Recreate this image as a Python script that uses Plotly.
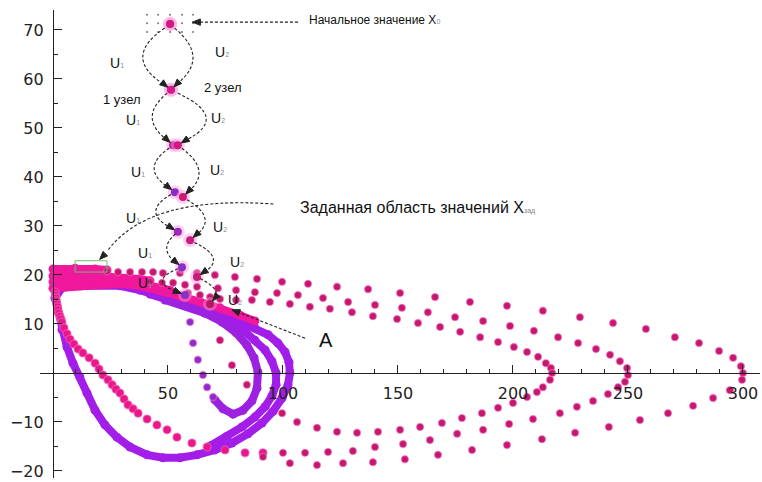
import math
import plotly.graph_objects as go

# ---------------- data ----------------
# start value and the two branches of the search chain (U1 = left, U2 = right)
node_left_x = [50.9, 51.3, 52.2, 53.0, 54.3, 56.1, 57.4]
node_left_y = [71.2, 57.8, 46.5, 36.9, 28.8, 21.6, 15.9]
node_right_x = [50.9, 51.3, 54.3, 56.5, 59.6, 62.6, 68.3]
node_right_y = [71.2, 57.8, 46.5, 35.9, 27.1, 19.6, 14.1]

# neighbourhood grid around the start value
grid_x = [40.9, 45.7, 50.9, 56.1, 60.9]
grid_y = [73.1, 71.4, 69.6]

# dense part of the trajectories near the y axis
band1_x = [0.0, 9.6, 18.3, 23.5]
band1_y = [21.2, 21.4, 21.2, 21.0]
band2_x = [0.0, 11.7, 24.8, 37.8, 42.2]
band2_y = [19.8, 19.8, 19.6, 19.2, 18.8]
band3_x = [0.0, 16.1, 29.1, 42.2, 50.9]
band3_y = [18.6, 18.6, 18.4, 17.8, 16.9]
band4_x = [0.0, 11.7, 20.4, 29.1, 37.8, 46.5, 55.2, 63.9, 72.6, 81.3, 87.8]
band4_y = [17.3, 17.8, 18.0, 18.2, 17.8, 16.9, 15.7, 14.5, 13.3, 11.8, 10.6]

# limit cycle (outer purple loop)
cycle_x = [0.9, 2.2, 3.9, 6.1, 8.7, 11.7, 14.8, 18.3, 22.6, 27.8, 33.5, 40.9, 47.8,
           55.2, 62.6, 70.4, 77.8, 84.8, 90.9, 95.7, 99.6, 102.2, 103.0, 102.6,
           100.9, 97.8, 93.5, 87.8, 81.3, 72.6, 63.9, 55.2, 46.5, 37.8, 29.1,
           20.4, 11.7, 3.9, 0.9]
cycle_y = [15.3, 12.4, 8.8, 5.3, 2.0, -0.8, -4.1, -7.6, -10.6, -13.1, -15.1, -16.7,
           -17.3, -17.3, -16.7, -15.7, -14.3, -12.4, -10.2, -7.8, -5.1, -2.4, 0.0,
           2.2, 4.3, 6.1, 7.8, 9.2, 10.4, 11.8, 13.1, 14.5, 15.9, 16.9, 17.8,
           18.0, 17.8, 17.4, 15.3]

# middle purple trajectory
mid_x = [42.2, 50.9, 59.6, 68.3, 76.1, 82.6, 87.8, 92.2, 95.2, 97.0, 97.0, 95.2,
         92.2, 87.8, 82.2, 75.7, 68.3]
mid_y = [16.1, 14.9, 13.5, 12.0, 10.6, 8.8, 6.7, 4.7, 2.4, 0.0, -2.4, -4.7,
         -6.9, -9.0, -11.0, -12.9, -14.9]

# inner purple trajectory (dense part, then sparse part)
inner_x = [48.7, 57.4, 66.1, 73.5, 79.6, 84.3, 87.4, 89.1, 88.7, 86.5, 82.6,
           78.3, 73.9, 70.4]
inner_y = [14.9, 13.7, 12.2, 10.4, 8.2, 5.7, 3.1, 0.2, -3.1, -5.7, -7.6,
           -8.4, -7.3, -5.5]
inner_sparse_x = [69.6, 67.0, 65.2, 63.0, 60.9, 59.6]
inner_sparse_y = [-4.9, -2.9, -0.4, 2.7, 6.1, 10.4]

# magenta trajectory descending along the y axis
left_x = [0.9, 1.1, 1.3, 1.5, 1.7, 2.0, 2.2, 2.6, 3.0, 3.5, 3.9, 4.8, 6.1, 7.4, 9.1,
          10.9, 13.0, 15.7, 18.3, 20.0, 21.7, 23.9, 25.7, 27.4, 29.1, 30.9, 32.6,
          34.8, 37.0, 40.9, 45.2, 49.6, 53.9, 60.4, 67.0, 74.8, 83.5, 91.3]
left_y = [16.5, 15.9, 15.3, 14.7, 14.1, 13.5, 12.9, 12.2, 11.6, 11.0, 10.4, 9.2, 8.0,
          6.9, 5.9, 4.9, 4.1, 3.1, 2.0, 0.8, -0.4, -1.4, -2.4, -3.3, -4.1, -5.3, -6.5,
          -7.3, -8.2, -9.4, -10.6, -11.6, -13.1, -14.3, -15.1, -15.7, -16.3, -16.3]

# outer trajectory reaching x = 300
t300_x = [23.5, 28.3, 33.5, 38.7, 43.5, 47.8, 55.2, 62.6, 70.4, 79.1, 88.7, 99.6,
          110.9, 123.5, 137.0, 150.9, 166.1, 181.3, 197.4, 213.0, 229.1, 243.5,
          257.8, 270.4, 280.9, 289.6, 295.7, 299.1, 300.0, 299.6, 294.3, 287.0,
          278.3, 267.4, 255.2, 241.7, 227.0, 212.6, 197.4, 182.2, 167.4, 153.0,
          139.1, 126.1, 114.8, 103.0, 91.3]
t300_y = [20.8, 20.6, 20.6, 20.6, 20.6, 20.4, 20.4, 20.4, 20.0, 19.6, 19.2, 18.6,
          18.2, 17.6, 17.1, 16.3, 15.5, 14.5, 13.7, 12.7, 11.4, 10.2,
          9.0, 7.3, 6.1, 4.5, 3.1, 1.4, 0.0, -1.4, -3.5, -5.1,
          -6.7, -8.2, -9.6, -11.0, -12.2, -13.5, -14.7, -15.7, -16.7, -17.6,
          -18.2, -18.4, -18.8, -18.4, -17.1]

# trajectory reaching x = 250
t250_x = [42.2, 47.4, 52.2, 57.4, 62.6, 71.7, 79.6, 87.8, 97.4, 106.5, 117.4,
          128.3, 140.0, 151.7, 163.0, 174.8, 187.0, 198.7, 209.1, 219.6, 228.3,
          236.1, 242.2, 246.5, 249.6, 250.0, 248.7, 245.7, 241.3, 234.8, 227.8,
          220.4, 208.7, 198.3, 187.0, 175.7, 163.9, 152.2, 140.0, 130.4, 119.6,
          109.6, 100.0]
t250_y = [18.6, 18.4, 18.4, 18.0, 17.6, 17.3, 16.9, 16.5, 16.3, 15.9, 15.3,
          14.5, 13.9, 13.3, 12.4, 11.4, 10.6, 9.6, 8.6, 7.3, 6.1,
          4.9, 3.7, 2.4, 1.0, -0.4, -1.8, -2.9, -4.3, -5.7, -6.9,
          -8.2, -9.4, -10.4, -11.6, -12.4, -13.7, -14.5, -15.1, -15.9, -16.1,
          -16.3, -16.3]

# trajectory reaching x = 217
t217_x = [58.7, 63.9, 68.3, 72.6, 79.6, 86.5, 94.3, 103.0, 111.7, 120.4, 130.0,
          139.1, 149.6, 158.7, 168.3, 177.0, 185.7, 193.5, 200.4, 206.1, 210.9,
          214.3, 216.5, 217.0, 216.1, 213.0, 210.4, 206.1, 200.0, 193.5, 186.5,
          177.8, 169.1, 159.6, 150.9, 141.3, 132.2, 123.5, 114.8, 106.1]
t217_y = [16.3, 15.9, 15.5, 15.1, 14.9, 14.9, 14.5, 14.1, 13.5, 13.1, 12.4,
          11.6, 11.0, 10.2, 9.4, 8.4, 7.3, 6.3, 5.3, 4.3, 3.3,
          2.0, 1.0, 0.0, -1.4, -2.9, -3.9, -4.9, -6.1, -7.1, -8.2,
          -9.2, -10.2, -11.0, -11.6, -12.0, -12.2, -12.0, -11.2, -10.0]

# points leaving the second node downward
branch_x = [72.6, 77.8, 84.3, 99.6]
branch_y = [6.7, 1.6, -2.4, -8.2]

x_ticks = [50, 100, 150, 200, 250, 300]
y_ticks = [-20, -10, 10, 20, 30, 40, 50, 60, 70]

# ---------------- figure ----------------
X_RANGE = [-5.65, 307.4]
Y_RANGE = [-21.43, 74.08]
MARGIN = dict(l=40, r=2, t=10, b=4)
WIDTH, HEIGHT = 762, 482
# pixels per data unit, used to shape arrowheads
SX = (WIDTH - MARGIN['l'] - MARGIN['r']) / (X_RANGE[1] - X_RANGE[0])
SY = (HEIGHT - MARGIN['t'] - MARGIN['b']) / (Y_RANGE[1] - Y_RANGE[0])

MAGENTA = '#f0189c'
PURPLE = '#a21ee8'
DOT = '#c4186c'
INK = '#222222'
TEXT_FONT = 'Liberation Sans, Arial, sans-serif'

fig = go.Figure()


def dense(x, y, color, width=8):
    fig.add_trace(go.Scatter(
        x=x, y=y, mode='lines+markers', line=dict(color=color, width=width),
        marker=dict(color=color, size=width + 1), hoverinfo='skip', showlegend=False))


def sparse(x, y, color, size=7):
    fig.add_trace(go.Scatter(
        x=x, y=y, mode='markers',
        marker=dict(color=color, size=size, line=dict(color='rgba(245,100,190,0.6)', width=1.3)),
        hoverinfo='skip', showlegend=False))


# purple trajectories underneath
dense(cycle_x, cycle_y, PURPLE)
dense(mid_x, mid_y, PURPLE)
dense(inner_x, inner_y, '#9c22e0')
sparse(inner_sparse_x, inner_sparse_y, '#8a2cd0', 7)

# magenta band along the top left
dense(band4_x, band4_y, MAGENTA)
dense(band3_x, band3_y, MAGENTA)
dense(band2_x, band2_y, MAGENTA)
dense(band1_x, band1_y, MAGENTA)
sparse(left_x, left_y, '#e8188a', 8)

# sparse outer trajectories
sparse(t300_x, t300_y, DOT)
sparse(t250_x, t250_y, DOT)
sparse(t217_x, t217_y, DOT)
sparse(branch_x, branch_y, DOT)

# neighbourhood grid of the start value
fig.add_trace(go.Scatter(
    x=[gx for gy in grid_y for gx in grid_x], y=[gy for gy in grid_y for gx in grid_x],
    mode='markers', marker=dict(color='#777777', size=2), hoverinfo='skip', showlegend=False))

# search chain nodes with soft halo
left_colors = ['#d0187e', '#d41a88', '#b0209c', '#8a2cc4', '#9a2ac0', '#8a30c8', '#8a30c8']
right_colors = ['#d0187e', '#d41a88', '#d01a7c', '#d0187a', '#c81a80', '#c81a78', '#b21a62']
for xs, ys, cols in [(node_left_x, node_left_y, left_colors), (node_right_x, node_right_y, right_colors)]:
    fig.add_trace(go.Scatter(x=xs, y=ys, mode='markers',
                             marker=dict(color='rgba(255,150,220,0.45)', size=14),
                             hoverinfo='skip', showlegend=False))
    fig.add_trace(go.Scatter(x=xs, y=ys, mode='markers', marker=dict(color=cols, size=8),
                             hoverinfo='skip', showlegend=False))

# ---------------- arrows ----------------
DASH = '3px,2px'


def bez(p0, c, p1, t):
    return ((1 - t) ** 2 * p0[0] + 2 * (1 - t) * t * c[0] + t * t * p1[0],
            (1 - t) ** 2 * p0[1] + 2 * (1 - t) * t * c[1] + t * t * p1[1])


def arrow_head(head, tail, standoff=4, length=8, half=3.2):
    """Filled triangular head pointing from tail to head, sized in pixels."""
    dx = (head[0] - tail[0]) * SX
    dy = (head[1] - tail[1]) * SY
    n = math.hypot(dx, dy)
    ux, uy = dx / n, dy / n
    tip = (head[0] - ux * standoff / SX, head[1] - uy * standoff / SY)
    bx, by = tip[0] - ux * length / SX, tip[1] - uy * length / SY
    l = (bx - uy * half / SX, by + ux * half / SY)
    r = (bx + uy * half / SX, by - ux * half / SY)
    path = f'M {tip[0]},{tip[1]} L {l[0]},{l[1]} L {r[0]},{r[1]} Z'
    fig.add_shape(type='path', path=path, xref='x', yref='y',
                  line=dict(color=INK, width=1), fillcolor=INK)
    return tip


def curved_arrow(p0, p1, c):
    s = bez(p0, c, p1, 0.06)
    e = bez(p0, c, p1, 0.9)
    path = f'M {s[0]},{s[1]} Q {c[0]},{c[1]} {e[0]},{e[1]}'
    fig.add_shape(type='path', path=path, xref='x', yref='y',
                  line=dict(color=INK, width=1.1, dash=DASH))
    arrow_head(p1, bez(p0, c, p1, 0.85))


left_bend = [-21, -15, -15, -15.6, -10, -16]
right_bend = [17, 24, 14, 14, 15, 9]
for i in range(len(node_left_x) - 1):
    for xs, ys, bend in [(node_left_x, node_left_y, left_bend[i]),
                         (node_right_x, node_right_y, right_bend[i])]:
        p0 = (xs[i], ys[i])
        p1 = (xs[i + 1], ys[i + 1])
        c = ((p0[0] + p1[0]) / 2 + bend, (p0[1] + p1[1]) / 2)
        curved_arrow(p0, p1, c)

# arrow to the target region
curved_arrow((103.0, 34.3), (19.1, 22.6), (42.2, 36.3))
fig.add_shape(type='rect', x0=9.6, x1=23.5, y0=20.6, y1=22.9, xref='x', yref='y',
              line=dict(color='#66c466', width=1))

# straight arrows: start value and point A
for tail, head in [((106.5, 71.6), (60.6, 71.6)), ((109.6, 7.1), (77.8, 12.9))]:
    fig.add_shape(type='line', x0=tail[0], y0=tail[1], x1=head[0], y1=head[1], xref='x', yref='y',
                  line=dict(color=INK, width=1.1, dash=DASH))
    arrow_head(head, tail, standoff=0)


# ---------------- labels ----------------
def label(x, y, text, size=13, anchor='center'):
    fig.add_annotation(x=x, y=y, xref='x', yref='y', text=text, showarrow=False,
                       xanchor=anchor, font=dict(family=TEXT_FONT, size=size, color='#111111'))


def u(i):
    return f'U<span style="font-size:7px;color:#888888">{i}</span>'


for (x, y) in [(27.8, 63.3), (34.8, 51.6), (37.0, 41.0), (34.8, 31.6), (40.0, 24.5), (40.0, 18.4)]:
    label(x, y, u(1), 14)
for (x, y) in [(73.5, 65.5), (71.7, 52.0), (71.3, 41.4), (72.6, 29.8), (80.0, 22.7), (79.1, 14.9)]:
    label(x, y, u(2), 14)
label(30.0, 55.9, '1 узел', 13)
label(73.9, 58.2, '2 узел', 13)
label(110.4, 72.0, 'Начальное значение X<span style="font-size:7px;color:#888888">0</span>', 12, 'left')
label(106.5, 33.7, 'Заданная область значений X<span style="font-size:7px;color:#888888">зад</span>', 16, 'left')
label(118.7, 6.7, 'A', 20)

# ---------------- axes ----------------
tick_font = dict(family='DejaVu Sans', size=16, color=INK)
fig.update_layout(
    width=WIDTH, height=HEIGHT, margin=MARGIN,
    paper_bgcolor='white', plot_bgcolor='white', showlegend=False,
    xaxis=dict(range=X_RANGE, tickmode='array', tickvals=x_ticks, ticks='inside', ticklen=8,
               tickwidth=1, tickcolor=INK, showline=True, linecolor=INK, linewidth=1.2,
               anchor='free', position=(0 - Y_RANGE[0]) / (Y_RANGE[1] - Y_RANGE[0]),
               showgrid=False, zeroline=False, tickfont=tick_font, ticklabelstandoff=6,
               automargin=False,
               minor=dict(tickmode='array', tickvals=[v for v in range(10, 310, 10) if v % 50],
                          ticks='inside', ticklen=4, tickcolor=INK, showgrid=False)),
    yaxis=dict(range=Y_RANGE, tickmode='array', tickvals=y_ticks, ticks='inside', ticklen=8,
               tickwidth=1, tickcolor=INK, showline=True, linecolor=INK, linewidth=1.2,
               anchor='free', position=(0 - X_RANGE[0]) / (X_RANGE[1] - X_RANGE[0]),
               showgrid=False, zeroline=False, tickfont=tick_font, ticklabelstandoff=6,
               automargin=False,
               minor=dict(tickmode='array', tickvals=[v for v in range(-15, 75, 10)],
                          ticks='inside', ticklen=4, tickcolor=INK, showgrid=False)),
)

fig.write_html('out.html')
